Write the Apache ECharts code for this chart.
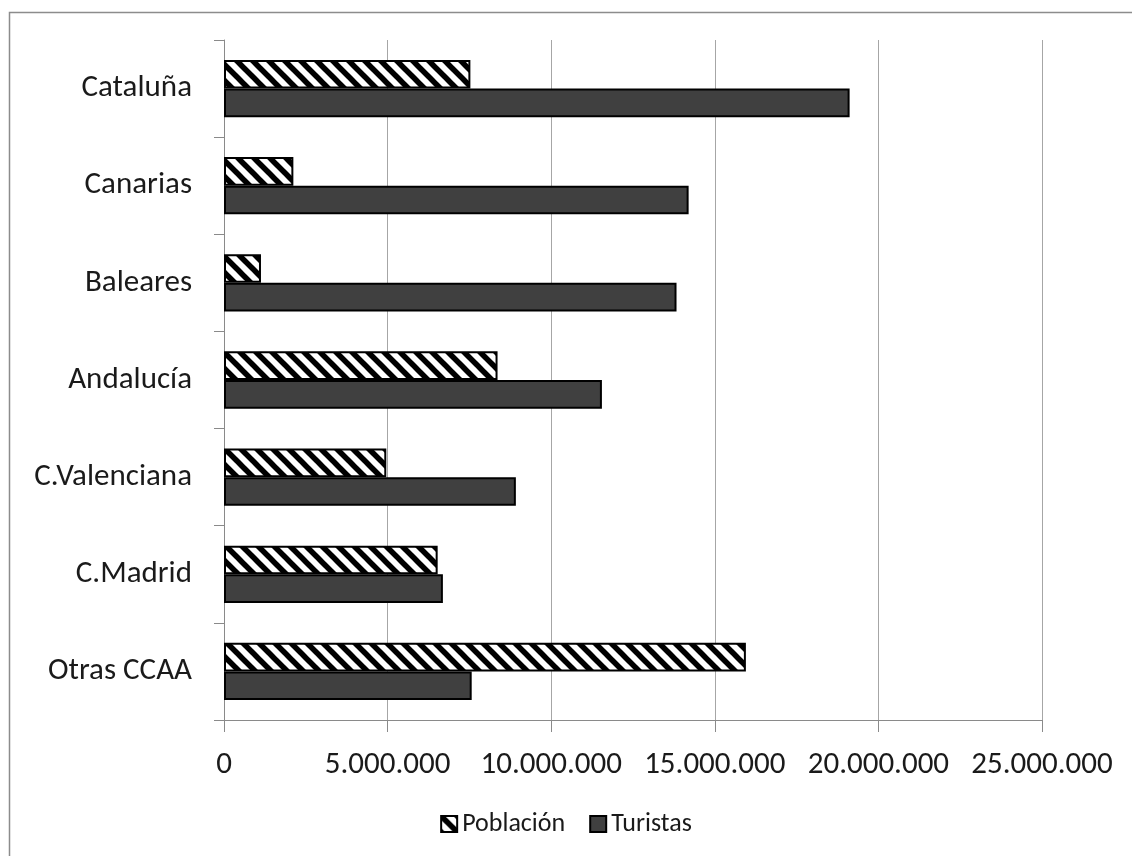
<!DOCTYPE html>
<html>
<head>
<meta charset="utf-8">
<script src="https://cdn.jsdelivr.net/npm/echarts@6/dist/echarts.min.js"></script>
<style>
html,body{margin:0;padding:0;background:#fff;}
#chart{width:1132px;height:856px;}
</style>
</head>
<body>
<div id="chart"></div>
<script>
// Data (bottom to top on the category axis)
const categories = ['Otras CCAA', 'C.Madrid', 'C.Valenciana', 'Andalucía', 'Baleares', 'Canarias', 'Cataluña'];
const poblacion = [15950000, 6530000, 4960000, 8360000, 1130000, 2120000, 7530000];
const turistas = [7570000, 6690000, 8920000, 11550000, 13830000, 14200000, 19120000];
const xTicks = [0, 5000000, 10000000, 15000000, 20000000, 25000000];
const seriesNames = ['Población', 'Turistas'];

// hatch pattern
function makeHatch() {
  const s = 16;
  const c = document.createElement('canvas');
  c.width = s; c.height = s;
  const ctx = c.getContext('2d');
  ctx.fillStyle = '#ffffff';
  ctx.fillRect(0, 0, s, s);
  ctx.strokeStyle = '#000000';
  ctx.lineWidth = 5.5;
  for (let k = -1; k <= 1; k++) {
    ctx.beginPath();
    ctx.moveTo(k * s - 4, -4);
    ctx.lineTo(k * s + s + 4, s + 4);
    ctx.stroke();
  }
  return c;
}
const hatch = makeHatch();

const fmt = v => String(v).replace(/\B(?=(\d{3})+(?!\d))/g, '.');
const FONT = 'Carlito, Lato, "Open Sans", sans-serif';

const chart = echarts.init(document.getElementById('chart'), null, {renderer: 'canvas'});
chart.setOption({
  animation: false,
  backgroundColor: '#ffffff',
  graphic: [{
    type: 'rect', silent: true, z: -10,
    shape: {x: 9.5, y: 12.5, width: 1200, height: 900},
    style: {fill: 'none', stroke: '#8c8c8c', lineWidth: 1.5}
  }],
  grid: {left: 224, right: 90, top: 40, bottom: 136, containLabel: false},
  legend: {
    data: seriesNames,
    bottom: 14,
    left: 'center',
    icon: 'rect',
    itemWidth: 16, itemHeight: 16, itemGap: 24,
    textStyle: {fontFamily: FONT, fontSize: 26, color: '#1a1a1a'}
  },
  xAxis: {
    type: 'value',
    min: xTicks[0], max: xTicks[xTicks.length - 1], interval: xTicks[1] - xTicks[0],
    axisLine: {show: true, lineStyle: {color: '#8a8a8a', width: 1}},
    axisTick: {show: true, length: 12, lineStyle: {color: '#8a8a8a'}},
    splitLine: {show: true, lineStyle: {color: '#a6a6a6', width: 1}},
    axisLabel: {formatter: fmt, fontFamily: FONT, fontSize: 31, color: '#1a1a1a', margin: 30}
  },
  yAxis: {
    type: 'category',
    data: categories,
    axisLine: {show: true, lineStyle: {color: '#8a8a8a', width: 1}},
    axisTick: {show: true, length: 10, lineStyle: {color: '#8a8a8a'}},
    axisLabel: {fontFamily: FONT, fontSize: 31, color: '#1a1a1a', margin: 32}
  },
  series: [
    {
      name: seriesNames[0], type: 'bar', data: poblacion,
      barGap: '0%', barCategoryGap: '41%',
      itemStyle: {color: {image: hatch, repeat: 'repeat'}, borderColor: '#000', borderWidth: 2}
    },
    {
      name: seriesNames[1], type: 'bar', data: turistas,
      barGap: '0%', barCategoryGap: '41%',
      itemStyle: {color: '#404040', borderColor: '#000', borderWidth: 2}
    }
  ]
});
</script>
</body>
</html>
